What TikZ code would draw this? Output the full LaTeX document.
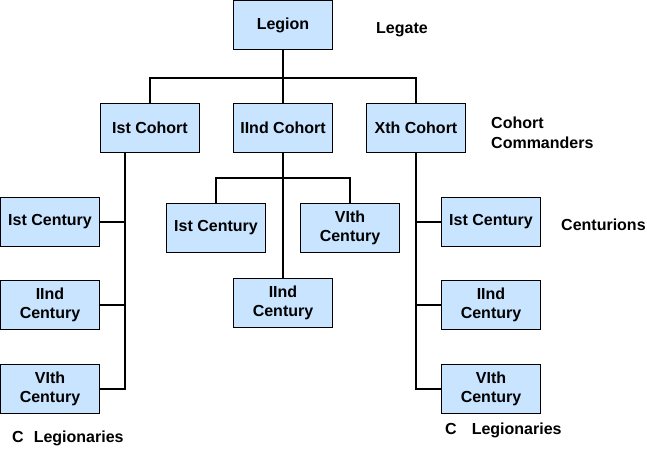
\documentclass[tikz,border=0pt]{standalone}
\usepackage{fontspec}
\setmainfont{Liberation Sans}
\definecolor{boxblue}{RGB}{200,228,255}
\begin{document}
\begin{tikzpicture}[x=1pt,y=-1pt,
  box/.style={draw,fill=boxblue,line width=1pt,minimum width=99pt,minimum height=49pt,align=center,inner sep=1pt,font=\bfseries\fontsize{16}{19}\selectfont},
  txt/.style={anchor=west,align=left,inner sep=0pt,font=\bfseries\fontsize{16}{20}\selectfont},
  link/.style={line width=2pt}]
\useasboundingbox (0,0) rectangle (647,448);
% legion and cohorts
\node[box] (legion) at (283,25) {Legion};
\node[box] (cohortA) at (150,127.5) {Ist Cohort};
\node[box] (cohortB) at (283,127.5) {IInd Cohort};
\node[box] (cohortC) at (416,127.5) {Xth Cohort};
% centuries
\node[box] (leftA) at (50,222) {Ist Century};
\node[box] (leftB) at (50,305) {IInd\\Century};
\node[box] (leftC) at (50,389) {VIth\\Century};
\node[box] (midA) at (216,228) {Ist Century};
\node[box] (midC) at (350,228) {VIth\\Century};
\node[box] (midB) at (283,303) {IInd\\Century};
\node[box] (rightA) at (491,222) {Ist Century};
\node[box] (rightB) at (491,305) {IInd\\Century};
\node[box] (rightC) at (491,389) {VIth\\Century};
% ranks
\node[txt] (legate) at (376,30) {Legate};
\node[txt] (commanders) at (491,133) {Cohort\\Commanders};
\node[txt] (centurions) at (561,225) {Centurions};
\node[txt] (legionA) at (12,438) {C\hspace{10pt}Legionaries};
\node[txt] (legionC) at (445,430) {C\hspace{15pt}Legionaries};

\draw[link] (legion.south) -- (cohortB.north);
\draw[link] (cohortA.north) -- ++(0,-25) -| (cohortC.north);
\draw[link] (cohortB.south) -- (midB.north);
\draw[link] (midA.north) -- ++(0,-25.5) -| (midC.north);
\coordinate (ltrunk) at ([xshift=-25pt]cohortA.south);
\draw[link] (ltrunk) |- (leftC.east);
\draw[link] (leftA.east) -- (leftA.east -| ltrunk);
\draw[link] (leftB.east) -- (leftB.east -| ltrunk);
\draw[link] (cohortC.south) |- (rightC.west);
\draw[link] (rightA.west) -- (rightA.west -| cohortC.south);
\draw[link] (rightB.west) -- (rightB.west -| cohortC.south);
\end{tikzpicture}
\end{document}
